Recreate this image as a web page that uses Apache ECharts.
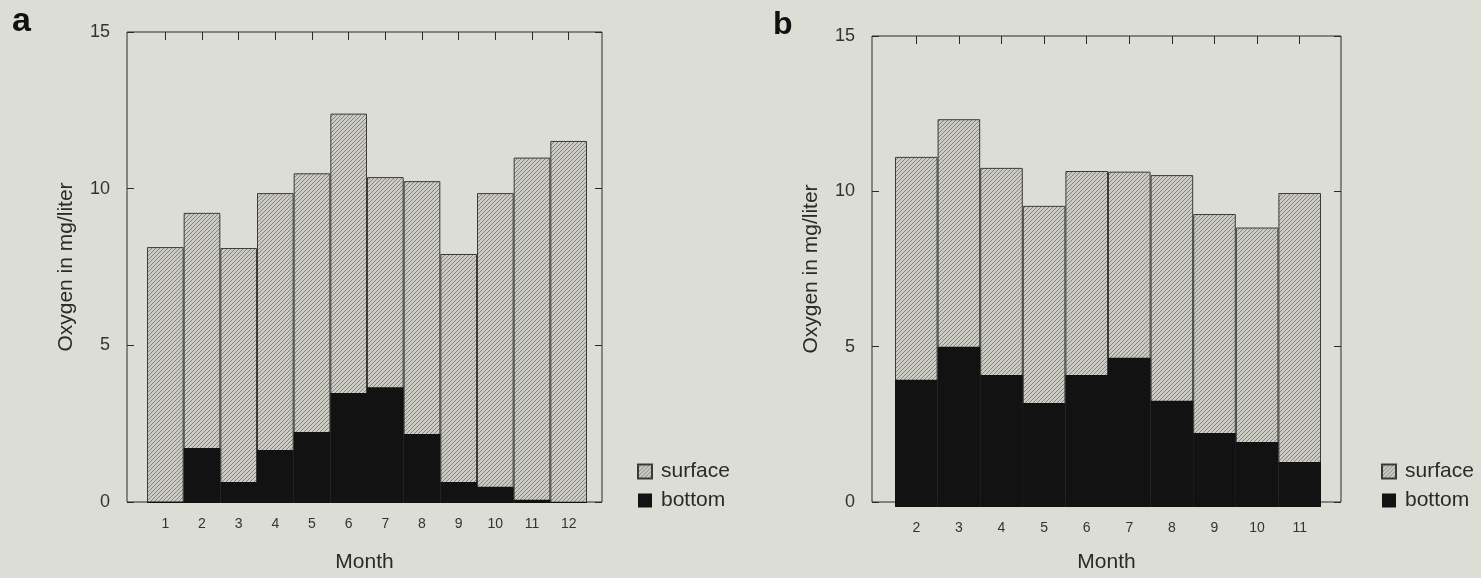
<!DOCTYPE html>
<html>
<head>
<meta charset="utf-8">
<script src="https://cdn.jsdelivr.net/npm/echarts@6/dist/echarts.min.js"></script>
<style>
  html, body { margin: 0; padding: 0; background: #dcddd4; }
  #chart { width: 1481px; height: 578px; }
</style>
</head>
<body>
<div id="chart"></div>
<script>
// panel a: months 1-12
var monthsA = ['1', '2', '3', '4', '5', '6', '7', '8', '9', '10', '11', '12'];
var surfaceA = [8.15, 9.24, 8.12, 9.87, 10.5, 12.4, 10.38, 10.25, 7.93, 9.87, 11.0, 11.53];
var bottomA = [0.05, 1.75, 0.67, 1.69, 2.26, 3.5, 3.69, 2.2, 0.67, 0.52, 0.1, 0.04];
// panel b: months 2-11
var monthsB = ['2', '3', '4', '5', '6', '7', '8', '9', '10', '11'];
var surfaceB = [11.15, 12.35, 10.8, 9.59, 10.7, 10.68, 10.57, 9.33, 8.9, 10.0];
var bottomB = [4.05, 5.1, 4.2, 3.31, 4.2, 4.75, 3.38, 2.36, 2.07, 1.43];
var yTicks = [0, 15, 5]; // min, max, interval

var FONT = '"Liberation Sans", Arial, sans-serif';
var INK = '#2a2a2a';

// hatched fill for surface bars
function makeHatch() {
	var c = document.createElement('canvas');
	c.width = 4;
	c.height = 4;
	var ctx = c.getContext('2d');
	ctx.fillStyle = '#cbcbc3';
	ctx.fillRect(0, 0, 4, 4);
	ctx.strokeStyle = '#85857f';
	ctx.lineWidth = 1;
	ctx.beginPath();
	ctx.moveTo(0, 4); ctx.lineTo(4, 0);
	ctx.moveTo(-1, 1); ctx.lineTo(1, -1);
	ctx.moveTo(3, 5); ctx.lineTo(5, 3);
	ctx.stroke();
	return { image: c, repeat: 'repeat' };
}
var hatch = makeHatch();

var frames = [
	{ left: 127, top: 32, width: 475, height: 471 },
	{ left: 872, top: 36, width: 469, height: 471 }
];
var bars = [
	{ left: 147, top: 32, width: 440, height: 471 },
	{ left: 895, top: 36, width: 426, height: 471 }
];

var grids = [], xAxes = [], yAxes = [], series = [];

function addPanel(p, cats, surf, bot) {
	var fg = grids.length;
	grids.push({
		left: frames[p].left, top: frames[p].top, width: frames[p].width, height: frames[p].height,
		show: true, borderColor: INK, borderWidth: 1, backgroundColor: 'transparent'
	});
	var bg = grids.length;
	grids.push({ left: bars[p].left, top: bars[p].top, width: bars[p].width, height: bars[p].height });

	// frame axes
	xAxes.push({
		gridIndex: fg, type: 'value', min: 0, max: 1,
		axisLine: { show: false }, axisTick: { show: false }, axisLabel: { show: false }, splitLine: { show: false },
		name: 'Month', nameLocation: 'middle', nameGap: 50,
		nameTextStyle: { fontFamily: FONT, fontSize: 21, color: INK }
	});
	yAxes.push({
		gridIndex: fg, type: 'value', min: yTicks[0], max: yTicks[1], interval: yTicks[2], position: 'left',
		axisLine: { show: false },
		axisTick: { show: true, inside: true, length: 7, lineStyle: { color: INK } },
		axisLabel: { margin: 17, fontFamily: FONT, fontSize: 18, color: '#333' },
		splitLine: { show: false },
		name: 'Oxygen in mg/liter', nameLocation: 'middle', nameGap: 50,
		nameTextStyle: { fontFamily: FONT, fontSize: 21, color: INK }
	});
	yAxes.push({
		gridIndex: fg, type: 'value', min: yTicks[0], max: yTicks[1], interval: yTicks[2], position: 'right',
		axisLine: { show: false },
		axisTick: { show: true, inside: true, length: 7, lineStyle: { color: INK } },
		axisLabel: { show: false }, splitLine: { show: false }
	});

	// bar axes
	var xb = xAxes.length;
	xAxes.push({
		gridIndex: bg, type: 'category', data: cats, position: 'bottom',
		axisLine: { show: false }, axisTick: { show: false },
		axisLabel: { margin: 14, fontFamily: FONT, fontSize: 14, color: '#333' }
	});
	xAxes.push({
		gridIndex: bg, type: 'category', data: cats, position: 'top',
		axisLine: { show: false },
		axisTick: { show: true, inside: true, alignWithLabel: true, length: 8, lineStyle: { color: INK } },
		axisLabel: { show: false }
	});
	var yb = yAxes.length;
	yAxes.push({ gridIndex: bg, type: 'value', min: yTicks[0], max: yTicks[1], show: false });

	series.push({
		name: 'surface', type: 'bar', xAxisIndex: xb, yAxisIndex: yb, data: surf,
		barWidth: '100%', barGap: '-100%',
		itemStyle: { color: hatch, borderColor: '#3a3a3a', borderWidth: 1 },
		emphasis: { disabled: true }
	});
	series.push({
		name: 'bottom', type: 'bar', xAxisIndex: xb, yAxisIndex: yb, data: bot,
		barWidth: '100%', barGap: '-100%',
		itemStyle: { color: '#121212' },
		emphasis: { disabled: true }
	});
}

addPanel(0, monthsA, surfaceA, bottomA);
addPanel(1, monthsB, surfaceB, bottomB);

function legendAt(left) {
	return {
		orient: 'vertical', left: left, top: 456, itemWidth: 14, itemHeight: 14, itemGap: 8,
		icon: 'rect', data: ['surface', 'bottom'], selectedMode: false,
		textStyle: { fontFamily: FONT, fontSize: 21, color: INK, padding: [0, 0, 0, 4] }
	};
}

var chart = echarts.init(document.getElementById('chart'), null, { renderer: 'canvas' });
chart.setOption({
	backgroundColor: '#dcddd4',
	animation: false,
	title: [
		{ text: 'a', left: 7, top: 0, textStyle: { fontFamily: FONT, fontSize: 34, fontWeight: 'bold', color: '#111' } },
		{ text: 'b', left: 768, top: 4, textStyle: { fontFamily: FONT, fontSize: 32, fontWeight: 'bold', color: '#111' } }
	],
	legend: [legendAt(632), legendAt(1376)],
	grid: grids,
	xAxis: xAxes,
	yAxis: yAxes,
	series: series
});
</script>
</body>
</html>
